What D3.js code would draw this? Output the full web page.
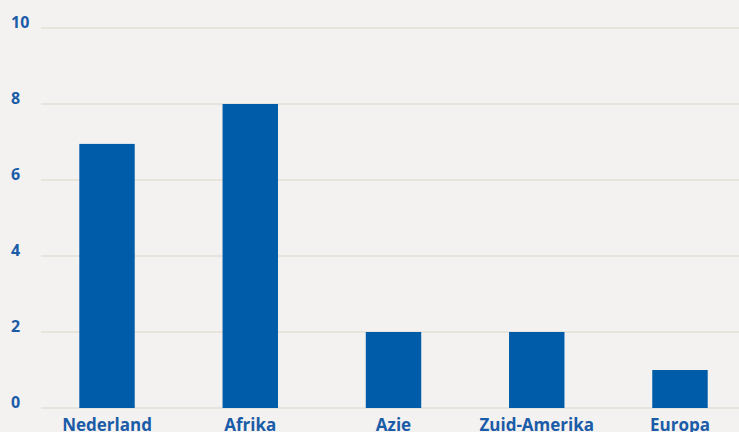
<!DOCTYPE html>
<html>
<head>
<meta charset="utf-8">
<script src="https://cdn.jsdelivr.net/npm/d3@7"></script>
<style>
  html, body { margin: 0; padding: 0; background: #f4f2f0; overflow: hidden; }
  svg { display: block; }
</style>
</head>
<body>
<svg id="chart" width="739" height="432"></svg>
<script>
const categories = ["Nederland", "Afrika", "Azie", "Zuid-Amerika", "Europa"];
const values = [6.95, 8, 2, 2, 1];
const yTicks = [0, 2, 4, 6, 8, 10];

const W = 739, H = 432;
const svg = d3.select("#chart");
svg.append("rect").attr("width", W).attr("height", H).attr("fill", "#f4f2f0");

const x = d3.scaleBand().domain(categories).range([35.4, 751.6])
  .paddingInner(0.613).paddingOuter(0.3065);
const y = d3.scaleLinear().domain([0, 10]).range([407.5, 27.5]);

// gridlines
const grid = d3.axisLeft(y).tickValues(yTicks).tickSize(-(W - 41)).tickFormat("");
svg.append("g").attr("transform", "translate(41,0)").call(grid)
  .call(g => g.select(".domain").remove())
  .call(g => g.selectAll("line").attr("stroke", "#e7e3dd").attr("stroke-width", 2));

// tick labels
const yLab = svg.append("g");
yLab.selectAll("text").data(yTicks).join("text")
  .attr("x", 11).attr("y", d => y(d) + 0.5)
  .attr("fill", "#1a5ca8")
  .attr("font-family", "'Open Sans', sans-serif")
  .attr("font-weight", 700).attr("font-size", 16)
  .text(d => d);

// bars
svg.append("g").selectAll("rect").data(values).join("rect")
  .attr("x", (d, i) => x(categories[i]))
  .attr("width", x.bandwidth())
  .attr("y", d => y(d) + 0.5)
  .attr("height", d => y(0) - y(d))
  .attr("fill", "#005ca8");

// category labels
const xAxis = d3.axisBottom(x).tickSize(0).tickPadding(0);
svg.append("g").attr("transform", "translate(0,0)")
  .selectAll("text").data(categories).join("text")
  .attr("x", d => x(d) + x.bandwidth() / 2)
  .attr("y", 431)
  .attr("text-anchor", "middle")
  .attr("fill", "#1a5ca8")
  .attr("font-family", "'Open Sans', sans-serif")
  .attr("font-weight", 700).attr("font-size", 17)
  .text(d => d);
</script>
</body>
</html>
